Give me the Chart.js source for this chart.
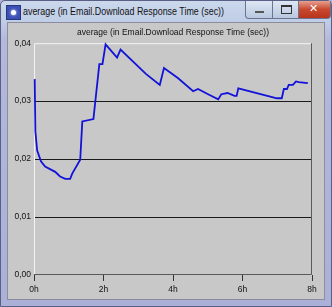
<!DOCTYPE html>
<html><head><meta charset="utf-8">
<script src="https://cdn.jsdelivr.net/npm/chart.js@4/dist/chart.umd.min.js"></script>
<style>
html,body{margin:0;padding:0;width:332px;height:307px;overflow:hidden;background:#aeb3d6;}
#win{position:absolute;left:0;top:0;width:330px;height:305px;border:1px solid #5a5f86;border-radius:5px 5px 0 0;
 background:linear-gradient(180deg,#cbd8ec 0px,#bfcde6 20px,#b3b8dc 40px,#aab0d8 100%);}
#title{position:absolute;left:22px;top:4px;font:11px "Liberation Sans",Arial,sans-serif;color:#111;white-space:nowrap;transform:scaleX(0.81);transform-origin:0 0;}
#icon{position:absolute;left:5px;top:4px;width:13px;height:13px;background:#3b4fb8;border:1px solid #27357a;}
#icon:after{content:"";position:absolute;left:4px;top:4px;width:5px;height:5px;background:#fff;border-radius:3px;box-shadow:0 0 3px #fff;}
.btn{position:absolute;top:0;height:17px;border:1px solid #6b7390;border-top:none;}
#bmin{left:244px;width:27px;background:linear-gradient(#dde6f3,#b9c8e0);border-radius:0 0 0 4px;}
#bmax{left:271px;width:26px;background:linear-gradient(#dde6f3,#b9c8e0);}
#bmax:after{content:"";position:absolute;left:8px;top:4px;width:9px;height:6px;border:1px solid #333;border-top-width:2px;}
#bmin:after{content:"";position:absolute;left:9px;top:10px;width:9px;height:2px;background:#555;}
#bcls{left:297px;width:31px;background:linear-gradient(#e7a090,#c8482e 50%,#b8351c);border-radius:0 0 4px 0;}
#bcls:after{content:"\2715";position:absolute;left:10px;top:1px;color:#fff;font:bold 11px "DejaVu Sans",sans-serif;}
#panel{position:absolute;left:6px;top:21px;width:316px;height:276px;background:#c8c8c8;border:1px solid #8c8c9c;}
canvas{position:absolute;left:0;top:0;}
</style></head>
<body>
<div id="win">
 <div id="icon"></div>
 <div id="title">average (in Email.Download Response Time (sec))</div>
 <div class="btn" id="bmin"></div><div class="btn" id="bmax"></div><div class="btn" id="bcls"></div>
 <div id="panel"><canvas id="c" width="316" height="276"></canvas></div>
</div>
<script>
const chartTitle = "average (in Email.Download Response Time (sec))";
const hours = [0.02,0.04,0.09,0.20,0.32,0.61,0.75,0.90,1.04,1.10,1.33,1.39,1.71,1.88,1.97,2.06,2.39,2.49,3.22,3.62,3.74,4.14,4.58,4.72,5.01,5.30,5.39,5.57,5.77,5.83,5.88,6.99,7.13,7.19,7.28,7.33,7.45,7.54,7.62,7.88];
const values = [0.0338,0.0248,0.0215,0.0196,0.0187,0.0178,0.0170,0.0166,0.0166,0.0175,0.0199,0.0265,0.0269,0.0364,0.0364,0.0398,0.0375,0.0389,0.0347,0.0328,0.0357,0.0340,0.0317,0.0321,0.0312,0.0303,0.0312,0.0314,0.0309,0.0309,0.0322,0.0305,0.0305,0.0321,0.0321,0.0328,0.0328,0.0334,0.0333,0.0331];
const xTicks = [0,2,4,6,8];
const yTicks = [0,0.01,0.02,0.03,0.04];

const pts = hours.map((h,i)=>({x:h,y:values[i]}));
const font = {family:'"Liberation Sans", Arial, sans-serif', size:8.5, weight:'normal'};

const frame = {
  id:'frame',
  beforeDatasetsDraw(chart){
    const a = chart.chartArea, ctx = chart.ctx;
    ctx.save();
    ctx.lineWidth = 1;
    ctx.strokeStyle = '#f4f4f4';
    ctx.beginPath();
    ctx.moveTo(a.left+0.5, a.bottom); ctx.lineTo(a.left+0.5, a.top+0.5); ctx.lineTo(a.right, a.top+0.5);
    ctx.stroke();
    ctx.strokeStyle = '#5a5a5a';
    ctx.beginPath();
    ctx.moveTo(a.right-0.5, a.top); ctx.lineTo(a.right-0.5, a.bottom-0.5); ctx.lineTo(a.left, a.bottom-0.5);
    ctx.stroke();
    ctx.restore();
  }
};

new Chart(document.getElementById('c'), {
  type:'line',
  data:{datasets:[{data:pts, borderColor:'#1212d8', borderWidth:1.8, pointRadius:0, tension:0, fill:false, clip:false}]},
  options:{
    responsive:false, animation:false,
    layout:{padding:{left:0,right:12,top:0,bottom:0}},
    plugins:{
      legend:{display:false}, tooltip:{enabled:false},
      title:{display:true, text:chartTitle, fullSize:false, color:'#111', font:font, padding:{top:5,bottom:5}}
    },
    scales:{
      x:{type:'linear', min:0, max:8,
        afterBuildTicks(s){ s.ticks = xTicks.map(v=>({value:v})); },
        afterFit(s){ s.height = 24; },
        ticks:{callback:v=>v+'h', color:'#111', font:font, padding:4, maxRotation:0, autoSkip:false},
        grid:{drawOnChartArea:false, drawTicks:true, tickLength:6, color:'#333', lineWidth:1},
        border:{display:false}
      },
      y:{min:0, max:0.04,
        afterBuildTicks(s){ s.ticks = yTicks.map(v=>({value:v})); },
        afterFit(s){ s.width = 26; },
        ticks:{callback:v=>v.toFixed(2).replace('.',','), color:'#111', font:font, padding:3},
        grid:{drawTicks:false, color:c=>(c.tick && (c.tick.value===0 || c.tick.value>0.035)) ? 'rgba(0,0,0,0)' : '#1a1a1a', lineWidth:1},
        border:{display:false}
      }
    }
  },
  plugins:[frame]
});
</script>
</body></html>
